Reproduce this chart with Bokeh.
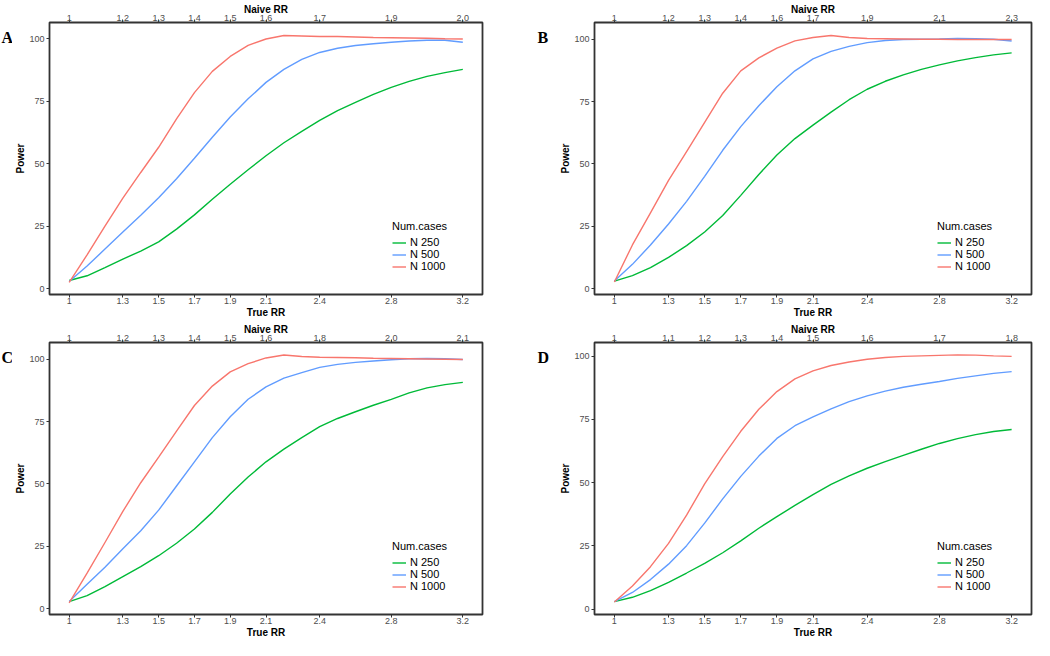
from bokeh.plotting import figure
from bokeh.models import Range1d, LinearAxis, FixedTicker, Legend, LegendItem
from bokeh.layouts import row, column
from bokeh.core.properties import value
from bokeh.embed import file_html
from bokeh.resources import INLINE

# ---------------- data ----------------
true_rr = [1.0, 1.1, 1.2, 1.3, 1.4, 1.5, 1.6, 1.7, 1.8, 1.9, 2.0, 2.1,
           2.2, 2.3, 2.4, 2.5, 2.6, 2.7, 2.8, 2.9, 3.0, 3.1, 3.2]

bottom_ticks = [1.0, 1.3, 1.5, 1.7, 1.9, 2.1, 2.4, 2.8, 3.2]
bottom_labels = ["1", "1.3", "1.5", "1.7", "1.9", "2.1", "2.4", "2.8", "3.2"]

naive_labels_A = ["1", "1,2", "1,3", "1,4", "1,5", "1,6", "1,7", "1,9", "2,0"]
naive_labels_B = ["1", "1,2", "1,3", "1,4", "1,6", "1,7", "1,9", "2,1", "2,3"]
naive_labels_C = ["1", "1,2", "1,3", "1,4", "1,5", "1,6", "1,8", "2,0", "2,1"]
naive_labels_D = ["1", "1,1", "1,2", "1,3", "1,4", "1,5", "1,6", "1,7", "1,8"]

series_names = ["N 250", "N 500", "N 1000"]
panel_letters = ["A", "B", "C", "D"]

# Panel A
A_n250 = [3.2, 5.1, 8.4, 11.8, 15.0, 18.7, 23.8, 29.5, 35.8, 41.8, 47.6, 53.2,
          58.4, 63.0, 67.4, 71.3, 74.6, 77.8, 80.6, 83.0, 85.0, 86.5, 87.8]
A_n500 = [2.8, 9.0, 15.8, 22.6, 29.4, 36.4, 44.0, 52.2, 60.6, 68.7, 76.0, 82.6,
          87.8, 91.8, 94.6, 96.3, 97.4, 98.1, 98.7, 99.2, 99.5, 99.5, 98.7]
A_n1000 = [2.5, 13.5, 25.0, 36.2, 46.5, 56.6, 68.0, 78.5, 87.0, 93.0, 97.4, 100.0,
           101.4, 101.2, 101.0, 101.0, 100.8, 100.6, 100.5, 100.4, 100.3, 100.1, 100.0]

# Panel B
B_n250 = [3.0, 5.2, 8.4, 12.5, 17.2, 22.7, 29.3, 37.4, 45.8, 53.6, 60.2, 65.6,
          70.8, 75.8, 80.0, 83.2, 85.8, 88.0, 89.8, 91.4, 92.7, 93.8, 94.6]
B_n500 = [3.0, 9.7, 17.5, 25.9, 35.0, 45.0, 55.5, 65.0, 73.4, 81.0, 87.4, 92.2,
          95.2, 97.2, 98.7, 99.6, 100.0, 100.1, 100.2, 100.4, 100.3, 100.1, 99.4]
B_n1000 = [2.6, 17.5, 30.4, 43.4, 55.0, 66.7, 78.4, 87.4, 92.6, 96.5, 99.4, 100.8,
           101.6, 100.8, 100.4, 100.3, 100.2, 100.1, 100.1, 100.0, 100.0, 100.0, 100.0]

# Panel C
C_n250 = [2.8, 5.2, 8.8, 12.8, 16.8, 21.2, 26.2, 31.9, 38.6, 46.0, 52.8, 58.9,
          64.0, 68.6, 73.0, 76.3, 79.0, 81.6, 84.0, 86.6, 88.6, 89.9, 90.8]
C_n500 = [2.8, 9.7, 16.6, 24.0, 31.2, 39.5, 49.2, 58.9, 68.6, 77.0, 84.0, 89.0,
          92.5, 94.7, 96.8, 98.0, 98.8, 99.4, 99.9, 100.3, 100.4, 100.3, 100.0]
C_n1000 = [2.3, 14.2, 26.5, 39.0, 50.5, 60.8, 71.2, 81.5, 89.3, 95.0, 98.3, 100.6,
           101.8, 101.2, 100.9, 100.8, 100.7, 100.5, 100.4, 100.3, 100.2, 100.1, 100.0]

# Panel D
D_n250 = [3.0, 4.7, 7.3, 10.6, 14.3, 18.1, 22.3, 27.0, 32.0, 36.6, 41.0, 45.3,
          49.3, 52.7, 55.7, 58.3, 60.8, 63.2, 65.5, 67.4, 69.0, 70.2, 71.0]
D_n500 = [3.0, 6.6, 11.7, 17.8, 25.1, 34.0, 43.6, 52.5, 60.5, 67.5, 72.5, 76.0,
          79.2, 82.0, 84.3, 86.2, 87.7, 88.9, 90.0, 91.2, 92.2, 93.2, 93.9]
D_n1000 = [2.8, 9.2, 16.8, 26.0, 37.2, 49.5, 60.3, 70.3, 79.0, 86.0, 91.0, 94.2,
           96.3, 97.7, 98.8, 99.5, 99.9, 100.1, 100.3, 100.5, 100.4, 100.1, 99.9]

colors = ["#00BA38", "#619CFF", "#F8766D"]

FONT = "Liberation Sans"
TICK_COLOR = "#4D4D4D"
FRAME_W = 437
FIG_H = 320


def make_panel(naive_labels, series, yr, width, left_border):
    p = figure(width=width, height=FIG_H, output_backend="svg", toolbar_location=None,
               x_range=Range1d(0.89, 3.31), y_range=Range1d(*yr),
               min_border_left=left_border,
               min_border_right=width - left_border - FRAME_W,
               min_border_top=0, min_border_bottom=0)
    p.grid.visible = False
    p.background_fill_color = "white"
    p.border_fill_color = "white"
    p.outline_line_color = "#333333"
    p.outline_line_width = 1.8

    xa = p.xaxis[0]
    xa.ticker = FixedTicker(ticks=bottom_ticks)
    xa.major_label_overrides = {t: l for t, l in zip(bottom_ticks, bottom_labels)}
    xa.axis_label = "True RR"
    ya = p.yaxis[0]
    ya.ticker = FixedTicker(ticks=[0, 25, 50, 75, 100])
    ya.axis_label = "Power"

    top = LinearAxis(ticker=FixedTicker(ticks=bottom_ticks),
                     major_label_overrides={t: l for t, l in zip(bottom_ticks, naive_labels)},
                     axis_label="Naive RR")
    p.add_layout(top, "above")

    for ax in [xa, ya, top]:
        ax.axis_line_color = None
        ax.major_tick_line_color = "#333333"
        ax.major_tick_line_width = 1
        ax.major_tick_out = 3
        ax.major_tick_in = 0
        ax.minor_tick_line_color = None
        ax.major_label_text_font = FONT
        ax.major_label_text_font_size = "9px"
        ax.major_label_text_color = TICK_COLOR
        ax.major_label_standoff = 0
        ax.axis_label_text_font = FONT
        ax.axis_label_text_font_size = "10px"
        ax.axis_label_text_font_style = "bold"
        ax.axis_label_text_color = "black"
        ax.axis_label_standoff = 0
    ya.major_label_standoff = 2
    top.axis_label_standoff = -3
    top.major_label_standoff = -1

    items = []
    for name, vals, col in zip(series_names, series, colors):
        r = p.line(true_rr, vals, line_color=col, line_width=1.4)
        items.append(LegendItem(label=name, renderers=[r]))

    leg = Legend(items=items, location=(FRAME_W - 94, 22), title="Num.cases",
                 title_text_font=FONT, title_text_font_size="11px",
                 title_text_font_style="normal",
                 title_text_color="black", title_standoff=4,
                 label_text_font=FONT, label_text_font_size="11px",
                 label_text_color="black",
                 glyph_width=14, glyph_height=11, label_height=11,
                 label_standoff=4, spacing=0, padding=0, margin=0,
                 border_line_color=None, background_fill_alpha=0)
    p.add_layout(leg)
    return p


def make_letter(letter, width, tx):
    f = figure(width=width, height=FIG_H, output_backend="svg", toolbar_location=None,
               title=None, x_axis_location=None, y_axis_location=None,
               x_range=Range1d(0, width), y_range=Range1d(0, FIG_H),
               min_border=0, min_border_left=0, min_border_right=0,
               min_border_top=0, min_border_bottom=0)
    f.grid.visible = False
    f.outline_line_color = None
    f.text(x=[tx], y=[FIG_H - 18], text=[letter], text_font=value("Liberation Serif"),
           text_font_size="16px", text_font_style="bold", text_baseline="middle",
           text_align="left", text_color="black")
    return f


lA = make_letter(panel_letters[0], 12, 1)
pA = make_panel(naive_labels_A, [A_n250, A_n500, A_n1000], (-2.4, 106.6), 505, 33)
lB = make_letter(panel_letters[1], 35, 20)
pB = make_panel(naive_labels_B, [B_n250, B_n500, B_n1000], (-2.4, 106.8), 482, 42)

lC = make_letter(panel_letters[2], 12, 1)
pC = make_panel(naive_labels_C, [C_n250, C_n500, C_n1000], (-2.4, 106.8), 505, 33)
lD = make_letter(panel_letters[3], 35, 20)
pD = make_panel(naive_labels_D, [D_n250, D_n500, D_n1000], (-2.1, 105.4), 482, 42)

layout = column(row(lA, pA, lB, pB, spacing=0), row(lC, pC, lD, pD, spacing=0), spacing=0)

open("out.html", "w").write(file_html(layout, INLINE))
